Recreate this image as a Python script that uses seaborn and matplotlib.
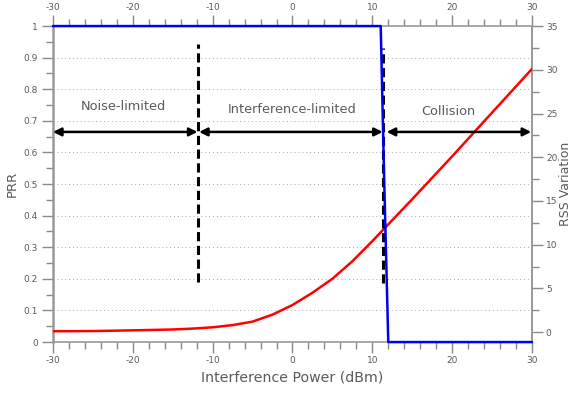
import numpy as np
import pandas as pd
import seaborn as sns
import matplotlib.pyplot as plt
from matplotlib.ticker import MultipleLocator

# PRR curve (left axis)
prr_x = [-30, 11.05, 11.5, 12.0, 30]
prr_y = [1, 1, 0.5, 0, 0]

# RSS variation curve (right axis)
rss_x = [-30, -25, -20, -15, -12.5, -10, -7.5, -5, -2.5, 0, 2.5, 5, 7.5, 10, 12.5, 15, 20, 25, 30]
rss_y = [0.1, 0.12, 0.2, 0.3, 0.4, 0.55, 0.8, 1.2, 2.0, 3.1, 4.5, 6.1, 8.1, 10.4, 12.8, 15.2, 20.1, 25.1, 30.1]

# region boundaries and labels
bound_x = [-11.8, 11.4]
regions = ['Noise-limited', 'Interference-limited', 'Collision']
region_spans = [(-30, -11.9), (-11.7, 11.3), (11.8, 29.9)]
label_pos = [(-21.2, 0.745), (0.0, 0.735), (19.5, 0.73)]

grey = '#8a8a8a'
txt = '#5a5a5a'

sns.set_style('white')
plt.rcParams['font.family'] = ['DejaVu Sans']
plt.rcParams['axes.unicode_minus'] = False

fig = plt.figure(figsize=(5.74, 3.95), dpi=100)
ax = fig.add_axes([0.0923, 0.134, 0.8345, 0.8])
ax2 = ax.twinx()

# map PRR (left scale) onto the right scale so everything is drawn on ax2
def to_right(p):
    return p * 36.14 - 1.14

df_rss = pd.DataFrame({'x': rss_x, 'y': rss_y})
sns.lineplot(data=df_rss, x='x', y='y', ax=ax2, color='#ff0000', lw=1.8, zorder=4)

ax.set_xlim(-30, 30)
ax.set_ylim(0, 1)
ax2.set_ylim(-1.14, 35)

# horizontal dotted grid
for g in np.arange(0.1, 1.0, 0.1):
    ax.axhline(g, color='#aaaaaa', ls=(0, (1, 3)), lw=0.7, zorder=0)

# dashed boundaries
for bx, y0, y1 in [(bound_x[0], 0.19, 0.943), (bound_x[1], 0.187, 0.93)]:
    ax2.plot([bx, bx], [to_right(y0), to_right(y1)], color='black',
             ls=(0, (3, 1.5)), lw=2.2, zorder=5)

# PRR line on top of the twin axes
sns.lineplot(x=prr_x, y=[to_right(p) for p in prr_y], ax=ax2, color='#0000ee',
             lw=1.8, zorder=6, clip_on=False)

# arrows and labels
for (x0, x1), name, (tx, ty) in zip(region_spans, regions, label_pos):
    ax2.annotate('', xy=(x1, to_right(0.665)), xytext=(x0, to_right(0.665)),
                 arrowprops=dict(arrowstyle='<|-|>', color='black', lw=1.8,
                                 mutation_scale=12, shrinkA=0, shrinkB=0), zorder=7)
    ax2.text(tx, to_right(ty), name, ha='center', va='center', fontsize=9.3, color=txt)

ax.xaxis.set_major_locator(MultipleLocator(10))
ax.xaxis.set_minor_locator(MultipleLocator(2))
ax.yaxis.set_minor_locator(MultipleLocator(0.05))
ax2.set_yticks(np.arange(0, 36, 5))
ax2.yaxis.set_minor_locator(MultipleLocator(2.5))
ax.set_yticks(np.arange(0, 1.01, 0.1))
ax.set_yticklabels([f'{v:g}' for v in np.round(np.arange(0, 1.01, 0.1), 1)])

for a in (ax, ax2):
    a.tick_params(which='major', length=8, width=1, color=grey, labelsize=6.5, labelcolor=txt, direction='out')
    a.tick_params(which='minor', length=5, width=1, color=grey, direction='out')
    for s in a.spines.values():
        s.set_color('#999999')
        s.set_linewidth(1.2)
ax2.spines['top'].set_visible(False)
ax2.spines['bottom'].set_visible(False)
ax2.spines['left'].set_visible(False)
ax.spines['left'].set_linewidth(1.8)
ax.tick_params(axis='x', which='both', top=True, labeltop=True, bottom=True, pad=2)
ax.tick_params(axis='y', pad=3)
ax2.tick_params(axis='y', pad=2)
ax2.set_xlabel('')

ax.set_xlabel('Interference Power (dBm)', fontsize=10.2, color=txt, labelpad=4)
ax.set_ylabel('PRR', fontsize=9.5, color=txt, labelpad=3)
ax2.set_ylabel('RSS Variation', fontsize=9, color=txt, labelpad=1)

fig.savefig('out.png', dpi=100)
